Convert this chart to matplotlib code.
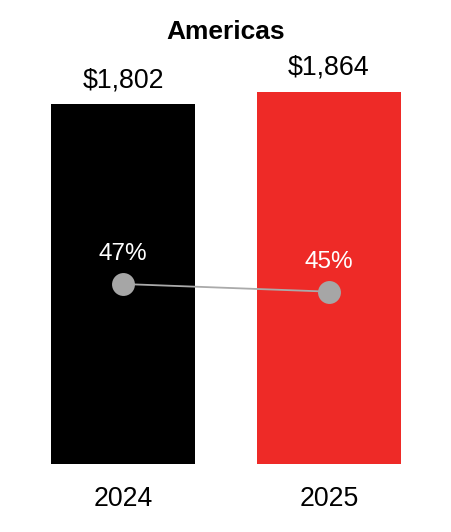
import matplotlib.pyplot as plt

plt.rcParams['font.family'] = ['Liberation Sans', 'DejaVu Sans']

# data
years = ['2024', '2025']
revenue = [1802, 1864]
revenue_labels = ['$1,802', '$1,864']
margin = [47, 45]
bar_colors = ['#000000', '#EE2A27']

fig = plt.figure(figsize=(4.52, 5.32), dpi=100)
# axes: bottom at 464px, top at 40px, full width
ax = fig.add_axes([0, 68 / 532, 1, 424 / 532])
x = list(range(len(years)))

ax.bar(x, revenue, width=0.70, color=bar_colors)
ax.set_xlim(-123 / 206, (452 - 123) / 206)
ax.set_ylim(0, revenue[0] * 424 / 360)
ax.axis('off')

for xi, v, lab in zip(x, revenue, revenue_labels):
    ax.annotate(lab, (xi, v), xytext=(0, 12.2), textcoords='offset points',
                ha='center', va='baseline', fontsize=19.3)
    ax.annotate(years[xi], (xi, 0), xytext=(0, -30), textcoords='offset points',
                ha='center', va='baseline', fontsize=19.2)

# margin line on a second axis
ax2 = ax.twinx()
ax2.set_ylim(0, margin[0] * 424 / 180)
ax2.axis('off')
ax2.plot(x, margin, color='#AAAAAA', lw=1.3, zorder=2)
ax2.plot(x, margin, 'o', color='#A6A6A6', ms=16.5, mec='none', zorder=3)
for xi, m in zip(x, margin):
    ax2.annotate(f'{m}%', (xi, m), xytext=(0, 17.3), textcoords='offset points',
                 ha='center', va='baseline', fontsize=17.5, color='white')

fig.text(0.5, (532 - 39) / 532, 'Americas', ha='center', va='baseline',
         fontsize=19, fontweight='bold')

fig.savefig('out.png', dpi=100)
